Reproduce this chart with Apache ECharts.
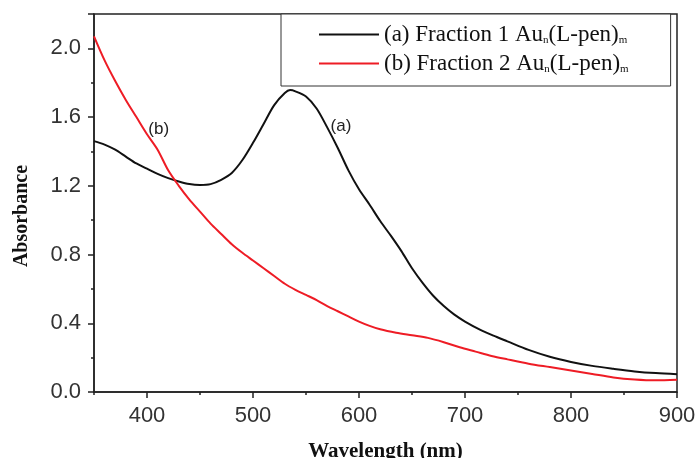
<!DOCTYPE html>
<html>
<head>
    <meta charset="UTF-8">
    <title>Absorbance spectra</title>
    <script src="https://cdn.jsdelivr.net/npm/echarts@6/dist/echarts.min.js"></script>
</head>
<body style="margin:0;background:#fff;">
    <div id="chart" style="width: 697px;height:458px;"></div>
    <script type="text/javascript">
        var myChart = echarts.init(document.getElementById('chart'));

        // wavelength (nm) / absorbance pairs
        var waveA = [350, 360, 370, 380, 390, 400, 410, 420, 430, 440, 450, 460, 470, 480, 490, 500, 510, 520, 530, 535, 540, 550, 560, 570, 580, 590, 600, 610, 620, 630, 640, 650, 660, 670, 680, 690, 700, 715, 730, 740, 760, 780, 800, 820, 840, 860, 880, 900];
        var absA = [1.46, 1.44, 1.41, 1.37, 1.33, 1.30, 1.27, 1.245, 1.225, 1.21, 1.205, 1.21, 1.235, 1.275, 1.35, 1.45, 1.56, 1.67, 1.74, 1.757, 1.75, 1.72, 1.65, 1.54, 1.42, 1.29, 1.18, 1.09, 0.995, 0.91, 0.82, 0.72, 0.635, 0.56, 0.50, 0.45, 0.41, 0.36, 0.32, 0.295, 0.245, 0.205, 0.175, 0.152, 0.135, 0.12, 0.11, 0.104];

        var waveB = [350, 360, 370, 380, 390, 400, 410, 420, 430, 440, 450, 460, 470, 480, 490, 500, 510, 520, 530, 540, 550, 560, 570, 580, 590, 600, 610, 620, 635, 650, 665, 680, 695, 710, 725, 740, 760, 780, 800, 820, 840, 860, 880, 900];
        var absB = [2.07, 1.93, 1.81, 1.70, 1.60, 1.50, 1.41, 1.29, 1.20, 1.12, 1.05, 0.98, 0.92, 0.86, 0.81, 0.765, 0.72, 0.675, 0.63, 0.595, 0.565, 0.535, 0.50, 0.47, 0.44, 0.41, 0.385, 0.365, 0.345, 0.33, 0.315, 0.29, 0.26, 0.235, 0.21, 0.19, 0.165, 0.145, 0.125, 0.105, 0.085, 0.073, 0.068, 0.072];

        var xTickValues = [400, 500, 600, 700, 800, 900];
        var seriesNames = ['(a) Fraction 1 Au', '(b) Fraction 2 Au'];

        function pairs(xs, ys) {
            return xs.map(function (x, i) { return [x, ys[i]]; });
        }

        var axisColor = '#222';

        var option = {
            animation: false,
            grid: {
                left: 94,
                right: 20,
                top: 14,
                bottom: 66,
                outerBoundsMode: 'none',
                show: true,
                borderColor: axisColor,
                borderWidth: 1.5
            },
            legend: {
                orient: 'vertical',
                left: 281,
                top: 14,
                padding: [9, 42, 11, 38],
                itemGap: 6,
                itemWidth: 60,
                itemHeight: 2,
                icon: 'rect',
                borderColor: '#333',
                borderWidth: 1,
                backgroundColor: '#fff',
                data: seriesNames,
                formatter: function (name) {
                    return '{t|' + name + '}{n|n}{t|(L-pen)}{m|m}';
                },
                textStyle: {
                    rich: {
                        t: { fontFamily: 'Liberation Serif', fontSize: 23, color: '#111', lineHeight: 22 },
                        n: { fontFamily: 'Liberation Serif', fontSize: 11, color: '#111', verticalAlign: 'bottom', lineHeight: 6 },
                        m: { fontFamily: 'Liberation Serif', fontSize: 11, color: '#111', verticalAlign: 'bottom', lineHeight: 2 }
                    }
                }
            },
            xAxis: [
                {
                    type: 'value',
                    min: 350,
                    max: 900,
                    interval: 50,
                    name: 'Wavelength (nm)',
                    nameLocation: 'middle',
                    nameGap: 49,
                    nameTextStyle: { fontFamily: 'Liberation Serif', fontWeight: 'bold', fontSize: 21, color: '#111' },
                    axisLine: { show: true, lineStyle: { color: axisColor, width: 1.5 } },
                    axisTick: { show: true, customValues: xTickValues, length: 6, lineStyle: { color: axisColor, width: 1.5 } },
                    splitLine: { show: false },
                    axisLabel: {
                        customValues: xTickValues,
                        margin: 13,
                        fontFamily: 'Liberation Sans',
                        fontSize: 22,
                        color: '#333'
                    }
                },
                {
                    // short ticks every 50 nm
                    type: 'value',
                    position: 'bottom',
                    min: 350,
                    max: 900,
                    interval: 50,
                    axisLine: { show: false },
                    axisTick: { show: true, length: 3, lineStyle: { color: axisColor, width: 1.5 } },
                    axisLabel: { show: false },
                    splitLine: { show: false }
                }
            ],
            yAxis: {
                type: 'value',
                min: 0,
                max: 2.2,
                interval: 0.4,
                name: 'Absorbance',
                nameLocation: 'middle',
                nameGap: 62,
                nameTextStyle: { fontFamily: 'Liberation Serif', fontWeight: 'bold', fontSize: 20, color: '#111', padding: [0, 26, 0, 0] },
                axisLine: { show: true, lineStyle: { color: axisColor, width: 1.5 } },
                axisTick: { show: true, length: 6, lineStyle: { color: axisColor, width: 1.5 } },
                minorTick: { show: true, splitNumber: 2, length: 3, lineStyle: { color: axisColor, width: 1.5 } },
                splitLine: { show: false },
                axisLabel: {
                    showMaxLabel: false,
                    margin: 13,
                    fontFamily: 'Liberation Sans',
                    fontSize: 22,
                    color: '#333',
                    formatter: function (v) { return v.toFixed(1); }
                }
            },
            series: [
                {
                    name: seriesNames[0],
                    type: 'line',
                    data: pairs(waveA, absA),
                    smooth: 0.3,
                    showSymbol: false,
                    symbol: 'none',
                    lineStyle: { color: '#111', width: 2 },
                    itemStyle: { color: '#111' },
                    markPoint: {
                        symbol: 'circle',
                        symbolSize: 0,
                        label: { show: true, formatter: '(a)', fontFamily: 'Liberation Sans', fontSize: 17, color: '#222' },
                        data: [{ coord: [583, 1.545] }]
                    }
                },
                {
                    name: seriesNames[1],
                    type: 'line',
                    data: pairs(waveB, absB),
                    smooth: 0.3,
                    showSymbol: false,
                    symbol: 'none',
                    lineStyle: { color: '#ee1c25', width: 2 },
                    itemStyle: { color: '#ee1c25' },
                    markPoint: {
                        symbol: 'circle',
                        symbolSize: 0,
                        label: { show: true, formatter: '(b)', fontFamily: 'Liberation Sans', fontSize: 17, color: '#222' },
                        data: [{ coord: [411, 1.53] }]
                    }
                }
            ]
        };

        myChart.setOption(option);
    </script>
</body>
</html>
